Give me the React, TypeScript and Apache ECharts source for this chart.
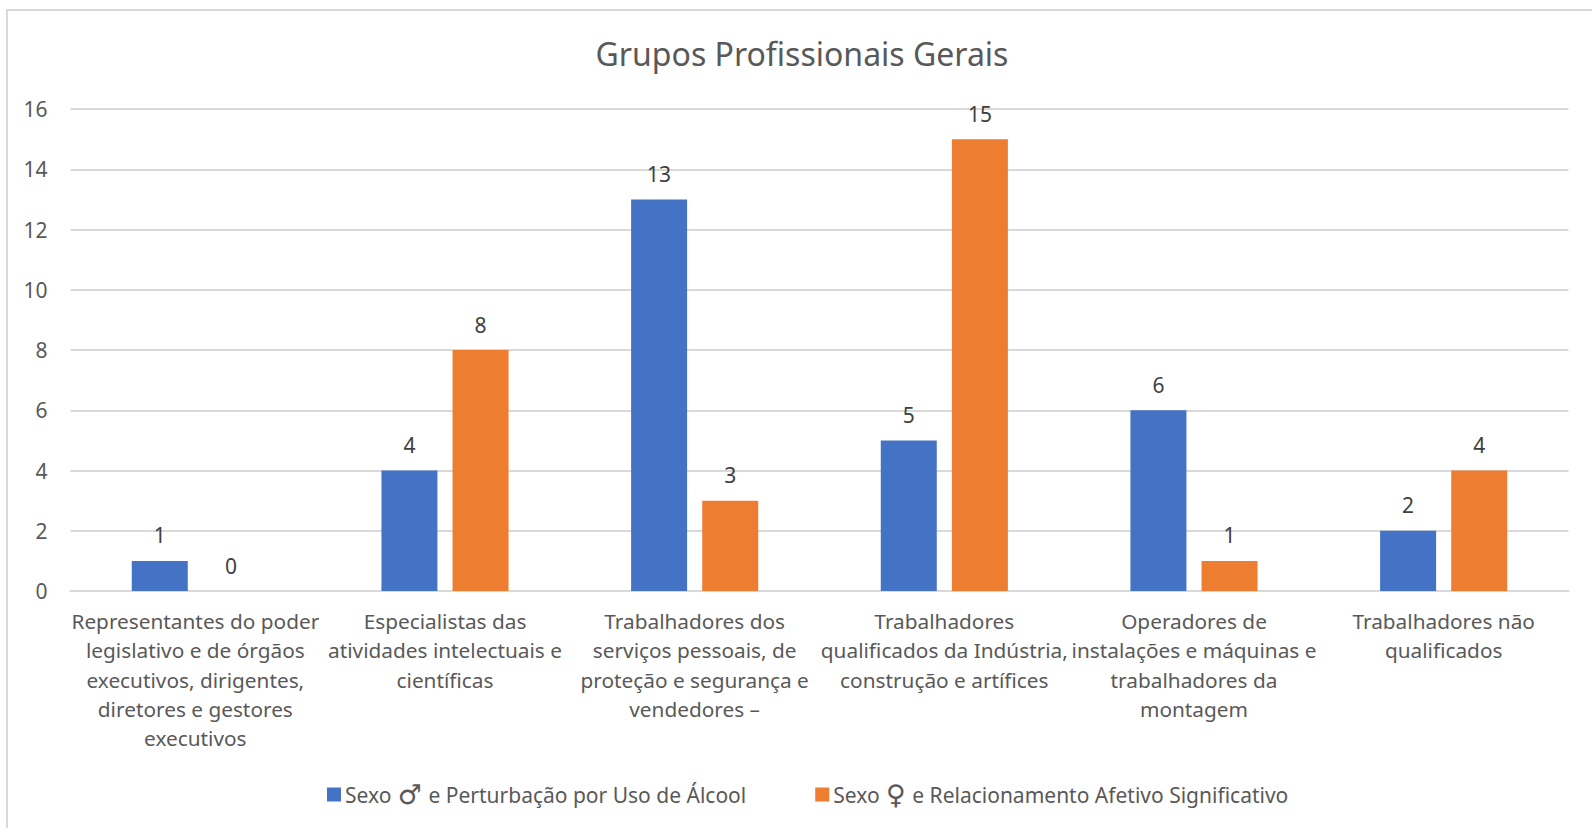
import React, { useEffect, useRef } from "react";
import * as echarts from "echarts";

const titleText = "Grupos Profissionais Gerais";
const categories = [
  "Representantes do poder\nlegislativo e de órgãos\nexecutivos, dirigentes,\ndiretores e gestores\nexecutivos",
  "Especialistas das\natividades intelectuais e\ncientíficas",
  "Trabalhadores dos\nserviços pessoais, de\nproteção e segurança e\nvendedores –",
  "Trabalhadores\nqualificados da Indústria,\nconstrução e artífices",
  "Operadores de\ninstalações e máquinas e\ntrabalhadores da\nmontagem",
  "Trabalhadores não\nqualificados",
];
const maleName = "Sexo ♂ e Perturbação por Uso de Álcool";
const femaleName = "Sexo ♀ e Relacionamento Afetivo Significativo";
const maleValues = [1, 4, 13, 5, 6, 2];
const femaleValues = [0, 8, 3, 15, 1, 4];

const FONT = "'Noto Sans', 'DejaVu Sans', sans-serif";

export default function App() {
  const ref = useRef<HTMLDivElement>(null);
  useEffect(() => {
    document.body.style.margin = "0";
    const chart = echarts.init(ref.current!, null, { renderer: "svg" });
    const label = {
      show: true,
      position: "top" as const,
      distance: 15,
      color: "#404040",
      fontSize: 21,
      fontFamily: FONT,
    };
    chart.setOption({
      animation: false,
      backgroundColor: "#ffffff",
      title: {
        text: titleText,
        left: 797,
        textAlign: "center",
        top: 32,
        textStyle: { color: "#595959", fontSize: 32, fontWeight: "normal", fontFamily: FONT },
      },
      graphic: [
        {
          type: "rect",
          shape: { x: 7, y: 10, width: 1600, height: 830 },
          style: { fill: "none", stroke: "#d9d9d9", lineWidth: 2 },
          silent: true,
          z: -1,
        },
      ],
      legend: {
        left: 322,
        top: 776,
        itemWidth: 14,
        itemHeight: 14,
        itemGap: 69,
        icon: "rect",
        formatter: (name: string) => name.replace(/([♂♀])/, "{s|$1}"),
        textStyle: {
          color: "#595959",
          fontSize: 21,
          fontFamily: FONT,
          padding: [0, 0, 0, -1],
          rich: {
            s: {
              fontSize: 27,
              fontFamily: "'DejaVu Sans', sans-serif",
              color: "#595959",
              padding: [0, 1, 0, 1],
            },
          },
        },
      },
      grid: { left: 70.5, right: 23.5, top: 109, height: 482 },
      xAxis: {
        type: "category",
        data: categories,
        axisTick: { show: false },
        axisLine: { lineStyle: { color: "#d9d9d9", width: 2 } },
        axisLabel: {
          interval: 0,
          color: "#595959",
          fontSize: 20.8,
          fontFamily: FONT,
          lineHeight: 29.4,
          margin: 15,
        },
      },
      yAxis: {
        type: "value",
        min: 0,
        max: 16,
        interval: 2,
        axisLine: { show: false },
        axisTick: { show: false },
        splitLine: { lineStyle: { color: "#d9d9d9", width: 2 } },
        axisLabel: { color: "#595959", fontSize: 21, fontFamily: FONT, margin: 23 },
      },
      series: [
        {
          name: maleName,
          type: "bar",
          data: maleValues,
          barWidth: 56,
          barGap: "27%",
          itemStyle: { color: "#4472c4" },
          label,
        },
        {
          name: femaleName,
          type: "bar",
          data: femaleValues,
          barWidth: 56,
          itemStyle: { color: "#ed7d31" },
          label,
        },
      ],
    });
    return () => chart.dispose();
  }, []);
  return <div ref={ref} style={{ width: 1592, height: 828 }} />;
}
